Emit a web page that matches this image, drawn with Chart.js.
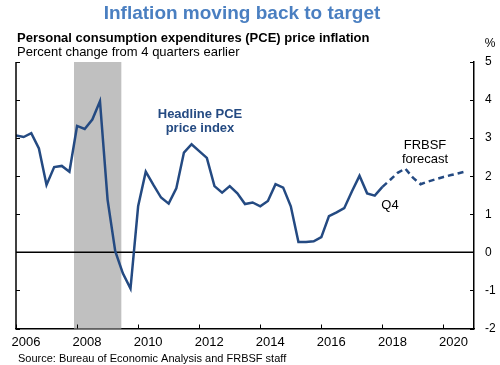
<!DOCTYPE html>
<html>
<head>
<meta charset="utf-8">
<script src="https://cdn.jsdelivr.net/npm/chart.js@4.4.1/dist/chart.umd.min.js"></script>
<style>
  html, body { margin: 0; padding: 0; background: #fff; }
  #wrap { width: 500px; height: 365px; }
</style>
</head>
<body>
<div id="wrap"><canvas id="chart" width="500" height="365"></canvas></div>
<script>
// Données trimestrielles, glissement sur 4 trimestres (%), 1er point = 2006 T1
const startYear = 2006;
const headlinePce = [
  3.07, 3.03, 3.13, 2.73, 1.77, 2.24, 2.27, 2.12,
  3.32, 3.24, 3.49, 3.97, 1.38, 0.03, -0.55, -0.95,
  1.21, 2.12, 1.77, 1.44, 1.28, 1.68, 2.62, 2.84,
  2.66, 2.48, 1.74, 1.57, 1.74, 1.55, 1.27, 1.31,
  1.21, 1.35, 1.79, 1.70, 1.21, 0.27, 0.27, 0.29,
  0.40, 0.95, 1.05, 1.16, 1.60, 2.01, 1.55, 1.49,
  1.72
];
// prévision FRBSF, commence au dernier point observé
const frbsfForecast = [1.72, 1.90, 2.09, 2.20, 1.96, 1.79, 1.86, 1.92, 1.98, 2.03, 2.08, 2.13];
const yearTicks = [2006, 2008, 2010, 2012, 2014, 2016, 2018, 2020];
const pctTicks = [-2, -1, 0, 1, 2, 3, 4, 5];
const recession = [2007.9, 2009.45];

const LINE = '#244a82';
const FONT = '"Liberation Sans", Arial, sans-serif';

function toPoints(values, offset) {
  return values.map(function (v, i) {
    return { x: startYear + (offset + i) / 4, y: v };
  });
}

const decorPlugin = {
  id: 'decor',
  beforeDatasetsDraw(chart) {
    const { ctx, chartArea: a, scales } = chart;
    const x = scales.x, y = scales.y;
    ctx.save();
    // zone de récession
    ctx.fillStyle = '#c0c0c0';
    const x0 = x.getPixelForValue(recession[0]);
    const x1 = x.getPixelForValue(recession[1]);
    ctx.fillRect(x0, a.top, x1 - x0, a.bottom - a.top);
    // ligne du zéro
    ctx.strokeStyle = '#000';
    ctx.lineWidth = 1.5;
    const y0 = y.getPixelForValue(0);
    ctx.beginPath();
    ctx.moveTo(a.left, y0);
    ctx.lineTo(a.right, y0);
    ctx.stroke();
    ctx.restore();
  },
  afterDraw(chart) {
    const { ctx, chartArea: a, scales } = chart;
    const x = scales.x, y = scales.y;
    ctx.save();
    ctx.strokeStyle = '#000';
    ctx.lineWidth = 1.5;
    // axe gauche
    ctx.beginPath();
    ctx.moveTo(a.left, a.top);
    ctx.lineTo(a.left, a.bottom);
    ctx.stroke();
    ctx.lineWidth = 1;
    ctx.beginPath();
    pctTicks.forEach(function (v) {
      const py = Math.round(y.getPixelForValue(v)) + 0.5;
      ctx.moveTo(a.left, py); ctx.lineTo(a.left + 4, py);
      ctx.moveTo(a.right, py); ctx.lineTo(a.right - 4, py);
    });
    yearTicks.forEach(function (v) {
      const px = Math.round(x.getPixelForValue(v)) + 0.5;
      ctx.moveTo(px, a.bottom); ctx.lineTo(px, a.bottom - 4);
    });
    ctx.stroke();

    // textes
    ctx.textBaseline = 'middle';
    ctx.textAlign = 'center';
    ctx.fillStyle = '#4a7fc1';
    ctx.font = 'bold 19px ' + FONT;
    ctx.fillText('Inflation moving back to target', 242, 14);

    ctx.textAlign = 'left';
    ctx.fillStyle = '#000';
    ctx.font = 'bold 13px ' + FONT;
    ctx.fillText('Personal consumption expenditures (PCE) price inflation', 17, 38);
    ctx.font = '13px ' + FONT;
    ctx.fillText('Percent change from 4 quarters earlier', 17, 52.5);
    ctx.textAlign = 'center';
    ctx.font = '12px ' + FONT;
    ctx.fillText('%', 490, 44);
    ctx.textAlign = 'left';
    ctx.font = '11px ' + FONT;
    ctx.fillText('Source: Bureau of Economic Analysis and FRBSF staff', 18, 359);

    ctx.textAlign = 'center';
    ctx.fillStyle = LINE;
    ctx.font = 'bold 13px ' + FONT;
    ctx.fillText('Headline PCE', 200, 114);
    ctx.fillText('price index', 200, 128);

    ctx.fillStyle = '#000';
    ctx.font = '13px ' + FONT;
    ctx.fillText('FRBSF', 425, 145);
    ctx.fillText('forecast', 425, 159);
    ctx.fillText('Q4', 390, 205);
    ctx.restore();
  }
};

new Chart(document.getElementById('chart'), {
  type: 'line',
  data: {
    datasets: [{
      label: 'Headline PCE price index',
      data: toPoints(headlinePce, 0),
      borderColor: LINE,
      borderWidth: 2.5,
      pointRadius: 0,
      tension: 0,
      fill: false
    }, {
      label: 'FRBSF forecast',
      data: toPoints(frbsfForecast, headlinePce.length - 1),
      borderColor: LINE,
      borderWidth: 2.5,
      borderDash: [6, 4],
      pointRadius: 0,
      tension: 0,
      fill: false
    }]
  },
  plugins: [decorPlugin],
  options: {
    responsive: false,
    devicePixelRatio: 1,
    animation: false,
    layout: { padding: { left: 16, top: 62, right: 0, bottom: 0 } },
    plugins: {
      legend: { display: false },
      tooltip: { enabled: false }
    },
    scales: {
      x: {
        type: 'linear',
        min: 2006,
        max: 2021,
        afterBuildTicks: function (scale) {
          scale.ticks = yearTicks.map(function (v) { return { value: v }; });
        },
        afterFit: function (scale) {
          scale.height = 36.5;
          scale.paddingLeft = 0;
          scale.paddingRight = 0;
        },
        grid: { display: false, drawTicks: false },
        border: { display: true, color: '#000', width: 1.5 },
        ticks: {
          autoSkip: false,
          maxRotation: 0,
          labelOffset: 10,
          padding: 6,
          color: '#000',
          font: { family: FONT, size: 13 },
          callback: function (v) { return String(v); }
        }
      },
      y: {
        position: 'right',
        min: -2,
        max: 5,
        afterBuildTicks: function (scale) {
          scale.ticks = pctTicks.map(function (v) { return { value: v }; });
        },
        afterFit: function (scale) {
          scale.width = 26;
          scale.paddingTop = 0;
          scale.paddingBottom = 0;
        },
        grid: { display: false, drawTicks: false },
        border: { display: true, color: '#000', width: 1.5 },
        ticks: {
          padding: 11,
          color: '#000',
          font: { family: FONT, size: 12 },
          callback: function (v) { return String(v); }
        }
      }
    }
  }
});
</script>
</body>
</html>
